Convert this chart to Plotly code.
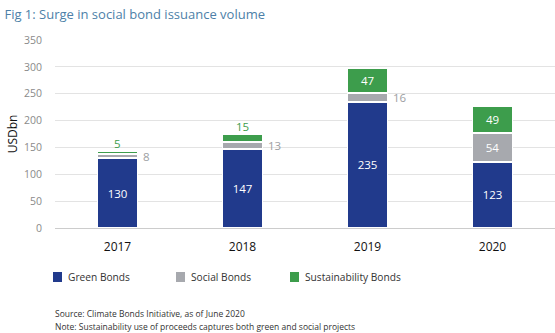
import plotly.graph_objects as go

# Issuance volume by year, USD bn
years = ["2017", "2018", "2019", "2020"]
green_bonds = [130, 147, 235, 123]
social_bonds = [8, 13, 16, 54]
sustainability_bonds = [5, 15, 47, 49]

series_names = ["Green Bonds", "Social Bonds", "Sustainability Bonds"]
y_ticks = [0, 50, 100, 150, 200, 250, 300, 350]

NAVY = "#213a8c"
GREY = "#a7a9ae"
GREEN = "#3d9d4c"
FONT = "Open Sans"
colors = [NAVY, GREY, GREEN]

# one slot per year on a numeric axis, labelled with the year
pos = list(range(len(years)))

# plot area in pixels (used for placing the legend key below the axis)
L, R, T, B = 55, 0, 40, 105
W, H = 555, 333
PW, PH = W - L - R, H - T - B


def px_x(px):
    return (px - L) / PW


def px_y(py):
    return (H - B - py) / PH


fig = go.Figure()

# segments too thin to hold their own label get an outside label instead
MIN_INSIDE = 30


def inside_text(vals):
    return [str(v) if v >= MIN_INSIDE else "" for v in vals]


for name, vals, color in zip(series_names,
                             [green_bonds, social_bonds, sustainability_bonds],
                             colors):
    fig.add_trace(go.Bar(
        x=pos, y=vals, name=name, width=0.32,
        marker=dict(color=color, line=dict(color="white", width=1.5)),
        text=inside_text(vals), textposition="inside", textangle=0,
        insidetextanchor="middle", constraintext="none",
        textfont=dict(color="white", size=11.5, family=FONT),
        showlegend=False,
    ))

# outside labels for thin social segments (right of the bar)
for i, g, s in zip(pos, green_bonds, social_bonds):
    if s < MIN_INSIDE:
        fig.add_annotation(x=i, y=g + s / 2, text=str(s), showarrow=False,
                           xanchor="left", xshift=23,
                           font=dict(color="#9c9ea2", size=11.5, family=FONT))

# outside labels for thin sustainability segments (above the bar)
for i, g, s, su in zip(pos, green_bonds, social_bonds, sustainability_bonds):
    if su < MIN_INSIDE:
        fig.add_annotation(x=i, y=g + s + su, text=str(su), showarrow=False,
                           yanchor="bottom", yshift=-2,
                           font=dict(color=GREEN, size=11.5, family=FONT))

# legend key: swatch + label for each series
key_left = [53, 176, 290]
for name, color, left in zip(series_names, colors, key_left):
    fig.add_shape(type="rect", xref="paper", yref="paper",
                  x0=px_x(left), x1=px_x(left + 9),
                  y0=px_y(282), y1=px_y(272),
                  fillcolor=color, line=dict(width=0))
    fig.add_annotation(xref="paper", yref="paper", x=px_x(left + 13), y=px_y(277),
                       xanchor="left", yanchor="middle", showarrow=False,
                       text=name, font=dict(size=10.2, color="#333333", family=FONT))

fig.update_layout(
    width=W, height=H,
    margin=dict(l=L, r=R, t=T, b=B),
    paper_bgcolor="white", plot_bgcolor="white",
    barmode="stack",
    font=dict(family=FONT),
    title=dict(text="Fig 1: Surge in social bond issuance volume",
               x=0.008, xanchor="left", y=0.97, yanchor="top",
               font=dict(size=13, color="#4d7fa8", family=FONT)),
    xaxis=dict(range=[-0.5, len(years) - 0.5], tickvals=pos, ticktext=years,
               showgrid=False, zeroline=False,
               tickfont=dict(size=12, color="#111111"),
               ticks="outside", ticklen=8, tickcolor="white", showline=False),
    yaxis=dict(range=[0, 350], tickvals=y_ticks, gridcolor="#e3e3e3",
               zeroline=True, zerolinecolor="#cccccc", zerolinewidth=1,
               tickfont=dict(size=10.5, color="#8a8a8a"), ticklen=10,
               ticks="outside", tickcolor="white",
               title=dict(text="USDbn", standoff=3,
                          font=dict(size=12, color="#111111"))),
)

fig.add_annotation(xref="paper", yref="paper", x=px_x(53), y=px_y(313),
                   xanchor="left", yanchor="middle", showarrow=False,
                   text="Source: Climate Bonds Initiative, as of June 2020",
                   font=dict(size=8.5, color="#333333", family=FONT))
fig.add_annotation(xref="paper", yref="paper", x=px_x(53), y=px_y(326),
                   xanchor="left", yanchor="middle", showarrow=False,
                   text="Note: Sustainability use of proceeds captures both green and social projects",
                   font=dict(size=8.5, color="#333333", family=FONT))

fig.write_html("out.html")
